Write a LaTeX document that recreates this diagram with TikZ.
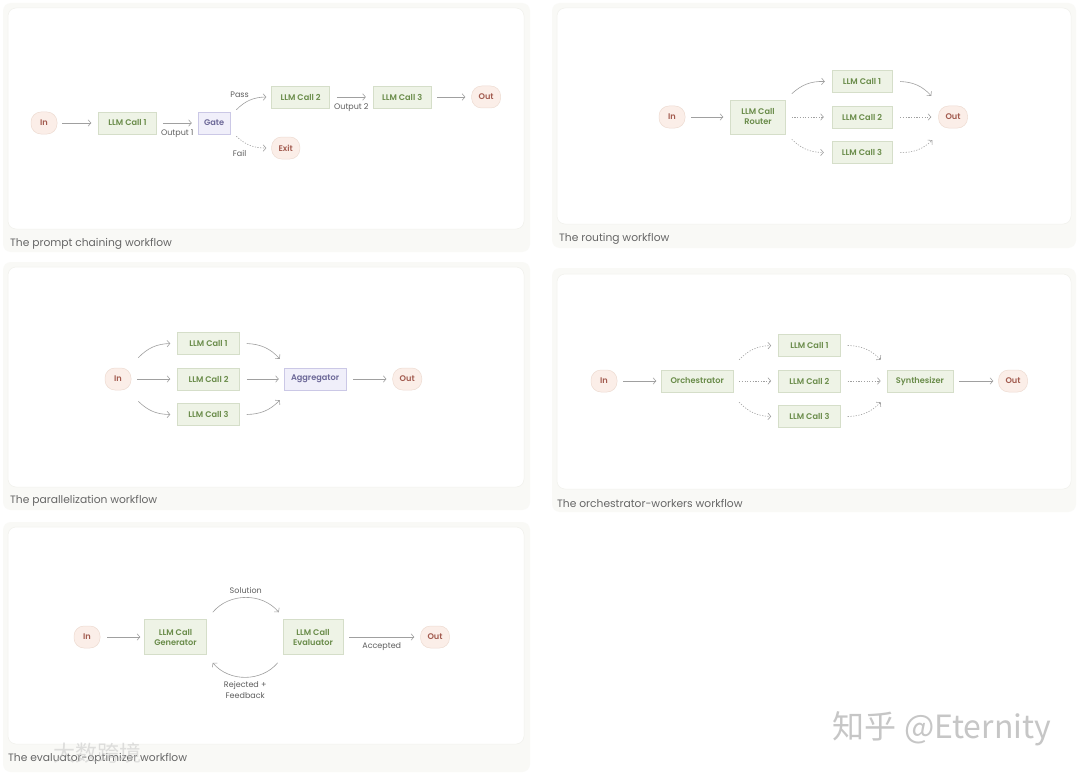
\documentclass[tikz,border=0pt]{standalone}
\usepackage{fontspec}
\usepackage{xcolor}
\setmainfont{Poppins}
\newfontfamily\nodefont{Poppins}[UprightFont={* SemiBold}]
\newfontfamily\cjkfont{Noto Sans CJK SC}
\usetikzlibrary{arrows.meta,positioning}
\definecolor{cgfill}{HTML}{EEF3E6}
\definecolor{cgdraw}{HTML}{D5DEC9}
\definecolor{cgtext}{HTML}{6A8C4A}
\definecolor{iofill}{HTML}{FBEEE8}
\definecolor{iodraw}{HTML}{EEDCD2}
\definecolor{iotext}{HTML}{A25A4E}
\definecolor{lvfill}{HTML}{F0EFFA}
\definecolor{lvdraw}{HTML}{CBC8E6}
\definecolor{lvtext}{HTML}{6C6898}
\definecolor{arrgray}{HTML}{A0A0A0}
\definecolor{lblgray}{HTML}{5E5E5E}
\definecolor{capgray}{HTML}{666666}
\definecolor{panelbg}{HTML}{F9F9F6}
\definecolor{paneldraw}{HTML}{F1F1EC}
\tikzset{
  blk/.style={draw,rectangle,line width=0.5pt,align=center,font=\nodefont\fontsize{8.2}{10}\selectfont,inner xsep=7pt,inner ysep=0pt,minimum height=22pt},
  callblk/.style={blk,fill=cgfill,draw=cgdraw,text=cgtext,minimum width=#1},
  callblk/.default=58pt,
  gateblk/.style={blk,fill=lvfill,draw=lvdraw,text=lvtext},
  ioblk/.style={blk,rounded corners=10pt,minimum width=26pt,inner xsep=7pt,fill=iofill,draw=iodraw,text=iotext},
  arr/.style={-{Straight Barb[length=2.8pt,width=6.5pt]},arrgray,line width=0.6pt},
  darr/.style={arr,dash pattern=on 1.2pt off 1.5pt},
  lbl/.style={font=\fontsize{8}{11}\selectfont,text=lblgray,inner sep=1pt,align=center},
  captxt/.style={font=\fontsize{10.7}{12}\selectfont,text=capgray,anchor=west,inner sep=0pt},
  panel/.style={fill=panelbg,rounded corners=8pt},
  pane/.style={fill=white,draw=paneldraw,line width=0.5pt,rounded corners=8pt},
  wmark/.style={font=\cjkfont,text=gray!45}
}
\begin{document}
\begin{tikzpicture}[x=1pt,y=-1pt]
  \useasboundingbox[fill=white] (0,0) rectangle (1080,776);

  % panels
  \fill[panel] (3,3) rectangle (530,252);
  \draw[pane] (8,8) rectangle (524,229);
  \fill[panel] (552,3) rectangle (1076,248);
  \draw[pane] (557,8) rectangle (1071,224);
  \fill[panel] (3,262) rectangle (530,510);
  \draw[pane] (8,267) rectangle (524,487);
  \fill[panel] (552,268) rectangle (1076,512);
  \draw[pane] (557,274) rectangle (1071,489);
  \fill[panel] (3,522) rectangle (530,772);
  \draw[pane] (8,527) rectangle (524,744);

  % Prompt chaining
  \node[ioblk] (in1) at (44,123) {In};
  \node[callblk, right=41pt of in1] (c11) {LLM Call 1};
  \node[gateblk, right=41pt of c11, inner xsep=6pt] (gate) {Gate};
  \node[callblk, right=41pt of gate, yshift=26pt] (c12) {LLM Call 2};
  \node[callblk, right=43pt of c12] (c13) {LLM Call 3};
  \node[ioblk, right=40pt of c13] (out1) {Out};
  \node[ioblk, right=41pt of gate, yshift=-25pt] (exit) {Exit};

  \draw[arr] ([xshift=5pt]in1.east) -- ([xshift=-7pt]c11.west);
  \draw[arr] ([xshift=6pt]c11.east) -- ([xshift=-6pt]gate.west) node[lbl,midway,below=5pt]{Output 1};
  \draw[arr] ([xshift=6pt,yshift=2pt]gate.north east) to[bend left=22] node[lbl,pos=0.12,above=8pt]{Pass} ([xshift=-5pt]c12.west);
  \draw[darr] ([xshift=6pt,yshift=-2pt]gate.south east) to[bend right=22] node[lbl,pos=0.12,below=10pt]{Fail} ([xshift=-5pt]exit.west);
  \draw[arr] ([xshift=7pt]c12.east) -- ([xshift=-7pt]c13.west) node[lbl,midway,below=5pt]{Output 2};
  \draw[arr] ([xshift=6pt]c13.east) -- ([xshift=-6pt]out1.west);
  \node[captxt] (cap1) at (10,244) {The prompt chaining workflow};

  % Routing
  \node[ioblk] (in2) at (672,117) {In};
  \node[callblk=55pt, right=45pt of in2, minimum height=34pt] (router) {LLM Call\\Router};
  \node[callblk=60pt, right=46pt of router] (c22) {LLM Call 2};
  \node[callblk=60pt, above=13pt of c22] (c21) {LLM Call 1};
  \node[callblk=60pt, below=13pt of c22] (c23) {LLM Call 3};
  \node[ioblk, right=46pt of c22] (out2) {Out};

  \draw[arr] ([xshift=6pt]in2.east) -- ([xshift=-7pt]router.west);
  \draw[arr] ([xshift=6pt,yshift=6pt]router.north east) to[bend left=22] ([xshift=-7pt]c21.west);
  \draw[darr] ([xshift=6pt]router.east) -- ([xshift=-8pt]c22.west);
  \draw[darr] ([xshift=6pt,yshift=-5pt]router.south east) to[bend right=22] ([xshift=-8pt]c23.west);
  \draw[arr] ([xshift=8pt]c21.east) to[bend left=22] ([xshift=-7pt,yshift=10pt]out2.north west);
  \draw[darr] ([xshift=8pt]c22.east) -- ([xshift=-7pt]out2.west);
  \draw[darr] ([xshift=8pt]c23.east) to[bend right=22] ([xshift=-6pt,yshift=-12pt]out2.south west);
  \node[captxt] (cap2) at (559,239) {The routing workflow};

  % Parallelization
  \node[ioblk] (in3) at (118,379) {In};
  \node[callblk=62pt, right=46pt of in3] (c32) {LLM Call 2};
  \node[callblk=62pt, above=13pt of c32] (c31) {LLM Call 1};
  \node[callblk=62pt, below=13pt of c32] (c33) {LLM Call 3};
  \node[gateblk, right=44pt of c32] (agg) {Aggregator};
  \node[ioblk, right=46pt of agg] (out3) {Out};

  \draw[arr] ([xshift=7pt,yshift=10pt]in3.north east) to[bend left=22] ([xshift=-7pt]c31.west);
  \draw[arr] ([xshift=6pt]in3.east) -- ([xshift=-7pt]c32.west);
  \draw[arr] ([xshift=7pt,yshift=-11pt]in3.south east) to[bend right=22] ([xshift=-7pt]c33.west);
  \draw[arr] ([xshift=7pt]c31.east) to[bend left=22] ([xshift=-4pt,yshift=9pt]agg.north west);
  \draw[arr] ([xshift=7pt]c32.east) -- ([xshift=-5pt]agg.west);
  \draw[arr] ([xshift=7pt]c33.east) to[bend right=22] ([xshift=-4pt,yshift=-10pt]agg.south west);
  \draw[arr] ([xshift=7pt]agg.east) -- ([xshift=-6pt]out3.west);
  \node[captxt] (cap3) at (10,501) {The parallelization workflow};

  % Orchestrator-workers
  \node[ioblk] (in4) at (604,381) {In};
  \node[callblk, right=44pt of in4, inner xsep=9pt] (orch) {Orchestrator};
  \node[callblk=62pt, right=45pt of orch] (c42) {LLM Call 2};
  \node[callblk=62pt, above=13pt of c42] (c41) {LLM Call 1};
  \node[callblk=62pt, below=13pt of c42] (c43) {LLM Call 3};
  \node[callblk, right=46pt of c42, inner xsep=9pt] (synth) {Synthesizer};
  \node[ioblk, right=45pt of synth] (out4) {Out};

  \draw[arr] ([xshift=6pt]in4.east) -- ([xshift=-5pt]orch.west);
  \draw[darr] ([xshift=6pt,yshift=10pt]orch.north east) to[bend left=22] ([xshift=-7pt]c41.west);
  \draw[darr] ([xshift=6pt]orch.east) -- ([xshift=-7pt]c42.west);
  \draw[darr] ([xshift=6pt,yshift=-10pt]orch.south east) to[bend right=22] ([xshift=-7pt]c43.west);
  \draw[darr] ([xshift=7pt]c41.east) to[bend left=22] ([xshift=-6pt,yshift=10pt]synth.north west);
  \draw[darr] ([xshift=7pt]c42.east) -- ([xshift=-6pt]synth.west);
  \draw[darr] ([xshift=7pt]c43.east) to[bend right=22] ([xshift=-6pt,yshift=-10pt]synth.south west);
  \draw[arr] ([xshift=6pt]synth.east) -- ([xshift=-5pt]out4.west);
  \node[captxt] (cap4) at (557,503) {The orchestrator-workers workflow};

  % Evaluator-optimizer
  \node[ioblk] (in5) at (87,637) {In};
  \node[callblk=62pt, right=44pt of in5, minimum height=35pt] (gen) {LLM Call\\Generator};
  \node[callblk=60pt, right=76pt of gen, minimum height=35pt] (eval) {LLM Call\\Evaluator};
  \node[ioblk, right=77pt of eval] (out5) {Out};

  \draw[arr] ([xshift=7pt]in5.east) -- ([xshift=-4pt]gen.west);
  \draw[arr] ([xshift=6pt,yshift=7pt]gen.north east) to[bend left=50] node[lbl,midway,above=3pt]{Solution} ([xshift=-4pt,yshift=7pt]eval.north west);
  \draw[arr] ([xshift=-5pt,yshift=-8pt]eval.south west) to[bend left=50] node[lbl,midway,below=3pt]{Rejected +\\Feedback} ([xshift=6pt,yshift=-8pt]gen.south east);
  \draw[arr] ([xshift=6pt]eval.east) -- ([xshift=-6pt]out5.west) node[lbl,midway,below=4pt]{Accepted};
  \node[captxt] (cap5) at (8,759) {The evaluator-optimizer workflow};

  % watermarks
  \node[wmark, font=\cjkfont\fontsize{22}{24}\selectfont, opacity=0.55] (wm2) at (97,753) {大数跨境};
  \node[wmark, font=\cjkfont\fontsize{32}{35}\selectfont] (wm1) at (942,729) {知乎 @Eternity};
\end{tikzpicture}
\end{document}
